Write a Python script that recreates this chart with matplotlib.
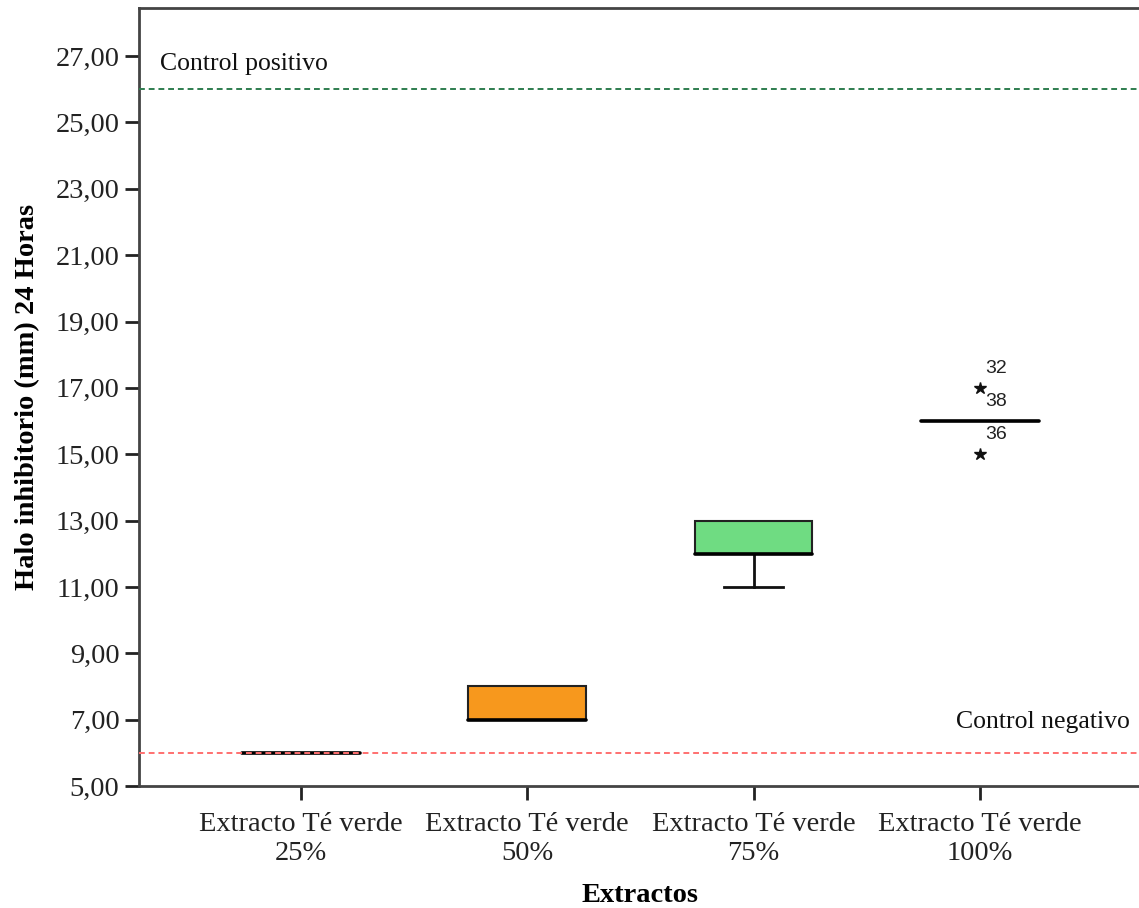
import matplotlib.pyplot as plt
from matplotlib.ticker import FuncFormatter

# data
categories = ["Extracto Té verde\n25%", "Extracto Té verde\n50%",
              "Extracto Té verde\n75%", "Extracto Té verde\n100%"]
q1 = [6, 7, 12, 16]
medians = [6, 7, 12, 16]
q3 = [6, 8, 13, 16]
whisker_low = [6, 7, 11, 16]
whisker_high = [6, 8, 13, 16]
outliers = [[], [], [], [17, 16, 15]]
outlier_ids = [[], [], [], ["32", "38", "36"]]
box_colors = ["#6c8ebf", "#f7981d", "#6fdc82", "#6c8ebf"]
control_pos = 26
control_neg = 6

plt.rcParams.update({
    "font.family": ["Liberation Serif", "DejaVu Serif"],
    "axes.linewidth": 2.0,
    "axes.edgecolor": "#444444",
})

fig = plt.figure(figsize=(11.39, 9.08), dpi=100)
ax = fig.add_axes([0.122, 0.1344, 0.8806, 0.8568])

stats = []
for i in range(len(categories)):
    stats.append({
        "q1": q1[i], "med": medians[i], "q3": q3[i],
        "whislo": whisker_low[i], "whishi": whisker_high[i],
        "fliers": [],
    })

bp = ax.bxp(
    stats,
    positions=range(1, len(categories) + 1),
    widths=0.52,
    patch_artist=True,
    showfliers=False,
    boxprops=dict(edgecolor="#222222", linewidth=1.5),
    whiskerprops=dict(color="#111111", linewidth=2.0),
    capprops=dict(color="#111111", linewidth=2.0),
    capwidths=0.26,
    medianprops=dict(color="#000000", linewidth=2.6, solid_capstyle="round"),
)
for patch, c in zip(bp["boxes"], box_colors):
    patch.set_facecolor(c)
for med in bp["medians"]:
    med.set_zorder(4)
# SPSS draws no cap where the whisker has zero length
for i in range(len(categories)):
    if whisker_low[i] == q1[i]:
        bp["caps"][2 * i].set_visible(False)
    if whisker_high[i] == q3[i]:
        bp["caps"][2 * i + 1].set_visible(False)

# extreme values: the star on the median line is hidden by it
for i, (vals, ids) in enumerate(zip(outliers, outlier_ids)):
    for v, lab in zip(vals, ids):
        if v != medians[i]:
            ax.plot(i + 1, v, marker="*", markersize=9, color="#111111", linestyle="none")
        ax.annotate(lab, (i + 1, v), xytext=(4, 14), textcoords="offset points",
                    ha="left", va="center", fontsize=14,
                    family=["Liberation Sans", "DejaVu Sans"], color="#222222")

ax.axhline(control_pos, color="#2e7d4f", linestyle=(0, (3, 2)), linewidth=1.4, zorder=5)
ax.axhline(control_neg, color="#ff7070", linestyle=(0, (3, 2)), linewidth=1.4, zorder=5)
ax.text(0.377, 26.76, "Control positivo", fontsize=18.5, ha="left", va="center", color="#111111")
ax.text(4.663, 6.93, "Control negativo", fontsize=18.5, ha="right", va="center", color="#111111")

ax.set_xlim(0.284, 4.716)
ax.set_ylim(5, 28.45)
ax.set_yticks(range(5, 28, 2))
ax.yaxis.set_major_formatter(FuncFormatter(lambda v, p: f"{v:.2f}".replace(".", ",")))
ax.set_xticks(range(1, len(categories) + 1))
ax.set_xticklabels(categories, linespacing=1.2)
ax.tick_params(axis="both", length=10, width=2, color="#222222",
               labelsize=20.5, labelcolor="#222222", pad=4)
ax.tick_params(axis="x", pad=9)

ax.spines["right"].set_visible(False)

ax.set_ylabel("Halo inhibitorio (mm) 24 Horas", fontsize=20.5, fontweight="bold", labelpad=11)
ax.set_xlabel("Extractos", fontsize=20.5, fontweight="bold", labelpad=12)

fig.savefig("out.png", dpi=100)
